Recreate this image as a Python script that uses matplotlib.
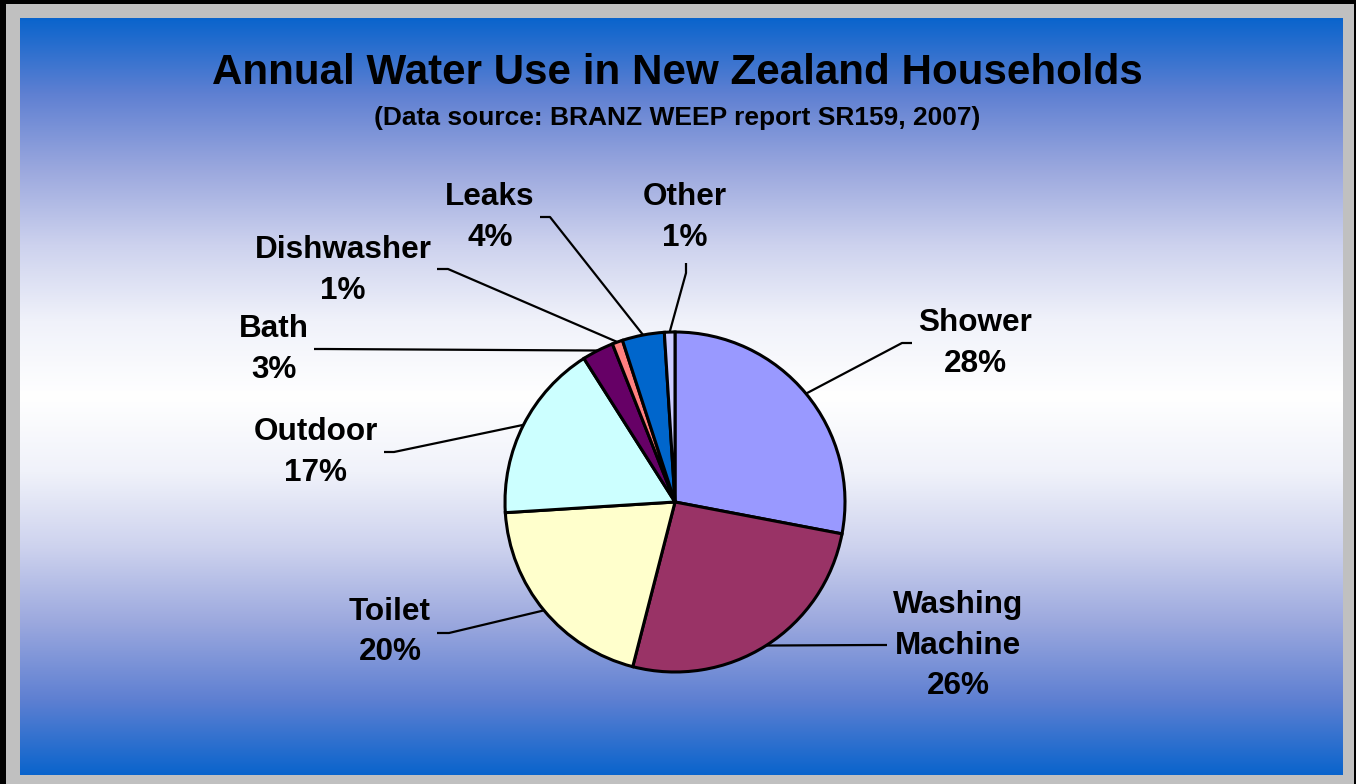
import matplotlib
matplotlib.use("Agg")
import matplotlib.pyplot as plt
import numpy as np
from matplotlib.patches import Rectangle

categories = ["Shower", "Washing\nMachine", "Toilet", "Outdoor", "Bath",
              "Dishwasher", "Leaks", "Other"]
shares = [28, 26, 20, 17, 3, 1, 4, 1]

title = "Annual Water Use in New Zealand Households"
subtitle = "(Data source: BRANZ WEEP report SR159, 2007)"

# style / layout (pixel coords, y down)
colors = ["#9999FF", "#993366", "#FFFFCC", "#CCFFFF", "#660066",
          "#FF8080", "#0066CC", "#CCCCFF"]
label_pos = [(975, 323), (958, 605), (390, 612), (316, 432), (274, 329),
             (343, 250), (490, 197), (685, 197)]
# elbow point, then end of short segment next to the label
leader = [((902, 343), (912, 343)), ((875, 645), (887, 645)),
          ((449, 633), (437, 633)), ((394, 452), (384, 452)),
          ((325, 349), (314, 349)), ((448, 269), (437, 269)),
          ((550, 217), (540, 217)), ((686, 273), (686, 263))]
line_gap = 40.5

W, H = 1356, 784
fig = plt.figure(figsize=(W / 100, H / 100), dpi=100)
fig.patch.set_facecolor("#C0C0C0")
ax = fig.add_axes([0, 0, 1, 1])

# frame: gray with black top/left/right edges
ax.add_patch(Rectangle((0, 0), W, H, facecolor="#C0C0C0", edgecolor="none", zorder=0))
ax.add_patch(Rectangle((0, 0), W, 4, facecolor="black", edgecolor="none", zorder=0))
ax.add_patch(Rectangle((0, 0), 6, H, facecolor="black", edgecolor="none", zorder=0))
ax.add_patch(Rectangle((1354, 0), 2, H, facecolor="black", edgecolor="none", zorder=0))

# background gradient: blue top and bottom, white in the middle
y0, y1 = 18, 775
yy = np.linspace(0, 1, 500)
d = np.abs(yy - 0.5) * 2
stops = [0.0, 0.2, 0.4, 0.6, 0.8, 1.0]
stop_rgb = np.array([[255, 255, 255], [240, 242, 250], [205, 210, 238],
                     [155, 168, 222], [95, 128, 210], [10, 100, 204]]) / 255.0
grad = np.stack([np.interp(d, stops, stop_rgb[:, k]) for k in range(3)], axis=1)
grad = np.repeat(grad[:, None, :], 2, axis=1)
ax.imshow(grad, extent=[20, 1343, y1, y0], aspect="auto", zorder=1, interpolation="bilinear")

cx, cy, r = 675, 502, 170
wedges, _ = ax.pie(shares, colors=colors, startangle=-90, counterclock=True,
                   center=(cx, cy), radius=r, frame=True,
                   wedgeprops=dict(edgecolor="black", linewidth=2.2))
for w in wedges:
    w.set_zorder(3)
ax.set_xlim(0, W)
ax.set_ylim(H, 0)
ax.set_aspect("auto")
ax.axis("off")

font = dict(family=["Liberation Sans", "DejaVu Sans"], fontweight="bold", color="black")

for w, name, val, (lx, ly), (elbow, end) in zip(wedges, categories, shares, label_pos, leader):
    mid = np.deg2rad((w.theta1 + w.theta2) / 2)
    ex, ey = cx + r * np.cos(mid), cy + r * np.sin(mid)
    ax.plot([ex, elbow[0], end[0]], [ey, elbow[1], end[1]], color="black", lw=1.6,
            zorder=2, solid_capstyle="butt")
    lines = name.split("\n") + [f"{val}%"]
    for i, s in enumerate(lines):
        ax.text(lx, ly + i * line_gap, s, ha="center", va="center", fontsize=22.7,
                zorder=4, **font)

ax.text(677, 73, title, ha="center", va="center", fontsize=30.3, zorder=4, **font)
ax.text(677, 118, subtitle, ha="center", va="center", fontsize=19, zorder=4, **font)

fig.savefig("out.png", dpi=100, facecolor=fig.get_facecolor())
